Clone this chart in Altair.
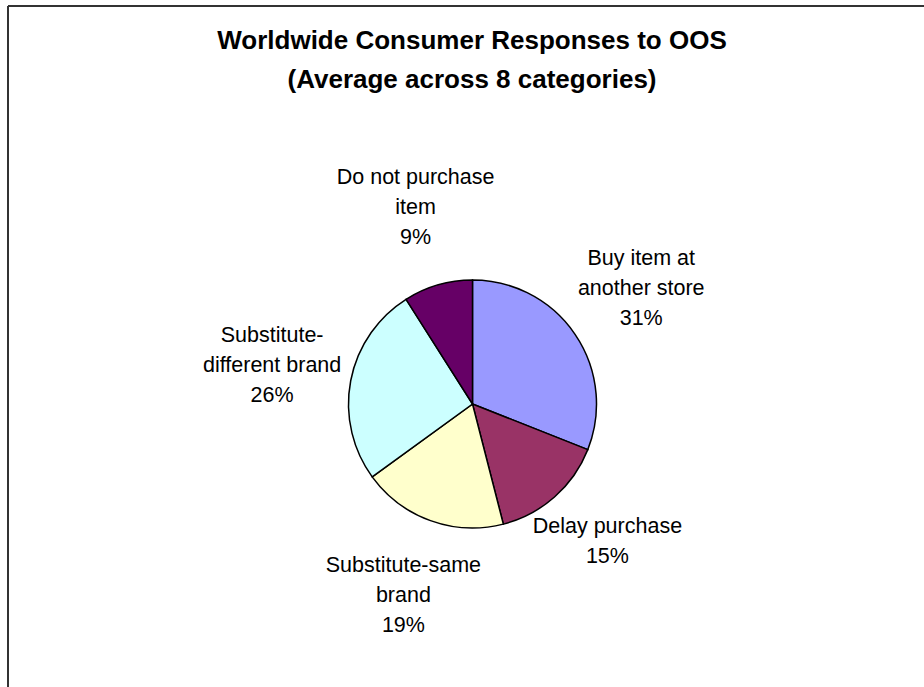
import altair as alt
import pandas as pd

categories = [
    "Buy item at another store",
    "Delay purchase",
    "Substitute-same brand",
    "Substitute-different brand",
    "Do not purchase item",
]
values = [31, 15, 19, 26, 9]
label_names = [
    "Buy item at\nanother store",
    "Delay purchase",
    "Substitute-same\nbrand",
    "Substitute-\ndifferent brand",
    "Do not purchase\nitem",
]
colors = ["#9999FF", "#993366", "#FFFFCC", "#CCFFFF", "#660066"]
title_lines = ["Worldwide Consumer Responses to OOS", "(Average across 8 categories)"]

df = pd.DataFrame({
    "category": categories,
    "value": values,
    "label": [f"{n}\n{v}%" for n, v in zip(label_names, values)],
    "order": list(range(len(categories))),
})

W, H = 916, 681
CX, CY = 464.5, 398

base = alt.Chart(df).encode(
    theta=alt.Theta("value:Q", stack=True),
    order=alt.Order("order:Q"),
)

pie = base.mark_arc(outerRadius=124, stroke="black", strokeWidth=1.5).encode(
    x=alt.value(CX),
    y=alt.value(CY),
    color=alt.Color("category:N", scale=alt.Scale(domain=categories, range=colors), legend=None),
)

labels = base.mark_text(
    radius=204, fontSize=21.5, font="Liberation Sans", lineBreak="\n", lineHeight=30,
    color="black", align="center", baseline="middle", dy=-30,
).encode(
    x=alt.value(CX),
    y=alt.value(CY),
    text="label:N",
)

frame_df = pd.DataFrame({"k": [0]})
top_rule = alt.Chart(frame_df).mark_rule(color="#333333", strokeWidth=2).encode(
    x=alt.value(0), x2=alt.value(W), y=alt.value(0)
)
left_rule = alt.Chart(frame_df).mark_rule(color="#333333", strokeWidth=2).encode(
    x=alt.value(0), y=alt.value(0), y2=alt.value(H)
)

chart = alt.layer(top_rule, left_rule, pie, labels).properties(
    width=W,
    height=H,
    padding={"left": 8, "top": 6, "right": 0, "bottom": 0},
    autosize=alt.AutoSizeParams(type="none"),
    title=alt.Title(
        title_lines, font="Liberation Sans", fontSize=26, fontWeight="bold",
        lineHeight=39, color="black", anchor="middle", offset=0, dy=88, dx=6,
        baseline="top",
    ),
).configure_view(stroke=None).configure(background="white")

chart.save("out.html", embed_options={"renderer": "svg", "actions": False})
